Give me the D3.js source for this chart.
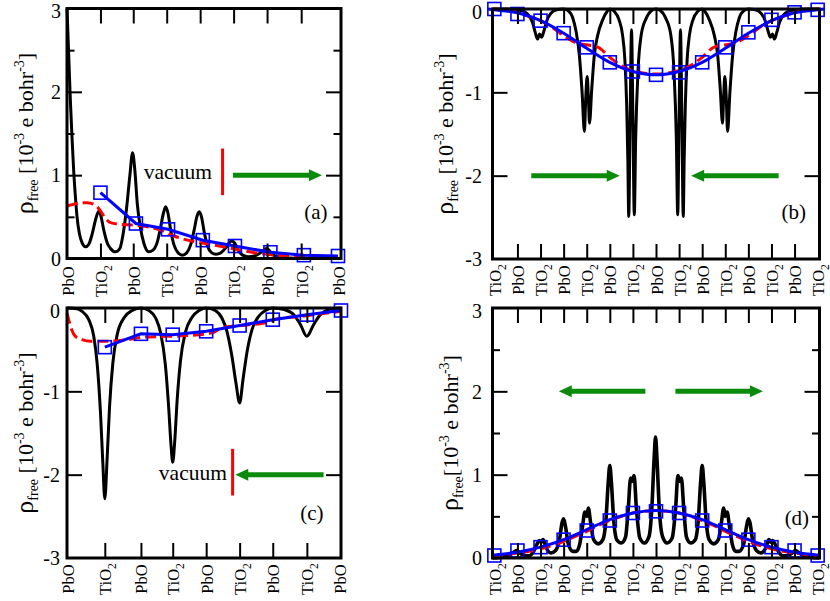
<!DOCTYPE html>
<html><head><meta charset="utf-8">
<script src="https://cdn.jsdelivr.net/npm/d3@7/dist/d3.min.js"></script>
<style>
body{margin:0;background:#fff}
svg{display:block;background:#fff}
text{font-family:"Liberation Serif","Times New Roman",Times,serif}
</style>
</head><body>
<svg id="fig" width="830" height="601"></svg>
<script>
// ---------------- DATA ----------------
const aTickPos = [0, 1.0, 1.98, 2.98, 3.98, 4.98, 5.98, 7.0, 8.13];
const aTickLabels = ["PbO","TiO2","PbO","TiO2","PbO","TiO2","PbO","TiO2","PbO"];
const cTickPos = [0, 1.13, 2.21, 3.16, 4.16, 5.16, 6.15, 7.17, 8.16];
const cTickLabels = ["PbO","TiO2","PbO","TiO2","PbO","TiO2","PbO","TiO2","PbO"];
const bdTickPos = [0,1,2,3,4,5,6,7,8,9,10,11,12,13,14];
const bdTickLabels = ["TiO2","PbO","TiO2","PbO","TiO2","PbO","TiO2","PbO","TiO2","PbO","TiO2","PbO","TiO2","PbO","TiO2"];
const posYTicks = [0,1,2,3];
const negYTicks = [0,-1,-2,-3];
const posYMinor = [0.5,1.5,2.5];

// panel (a)
const aBlack = [[0,3.0],[0.05,2.45],[0.1,1.9],[0.15,1.45],[0.2,1.05],[0.25,0.75],[0.3,0.5],[0.37,0.3],[0.45,0.19],[0.55,0.14],[0.65,0.17],[0.75,0.29],[0.85,0.46],[0.91,0.54],[0.96,0.57],[1.02,0.5],[1.1,0.34],[1.2,0.19],[1.3,0.12],[1.45,0.08],[1.58,0.12],[1.68,0.3],[1.78,0.6],[1.88,1.0],[1.96,1.27],[2.03,1.05],[2.1,0.66],[2.19,0.38],[2.3,0.18],[2.44,0.08],[2.57,0.1],[2.7,0.2],[2.8,0.38],[2.88,0.54],[2.95,0.62],[3.02,0.54],[3.1,0.34],[3.2,0.16],[3.32,0.07],[3.45,0.04],[3.58,0.07],[3.7,0.17],[3.8,0.34],[3.88,0.5],[3.95,0.56],[4.02,0.5],[4.1,0.32],[4.2,0.15],[4.32,0.07],[4.45,0.05],[4.6,0.07],[4.75,0.13],[4.85,0.19],[4.93,0.21],[5.02,0.18],[5.12,0.1],[5.25,0.04],[5.42,0.02],[5.6,0.03],[5.75,0.06],[5.88,0.1],[5.97,0.12],[6.06,0.09],[6.18,0.04],[6.35,0.015],[6.6,0.005],[7.0,0],[7.6,0],[8.19,0]];
const aRed = [[0,0.63],[0.3,0.66],[0.6,0.67],[0.85,0.64],[1.0,0.57],[1.15,0.48],[1.3,0.43],[1.6,0.41],[2.0,0.4],[2.4,0.38],[2.8,0.34],[3.2,0.27],[3.6,0.22],[4.0,0.19],[4.4,0.16],[4.8,0.13],[5.2,0.1],[5.6,0.07],[6.0,0.05],[6.5,0.03],[7.0,0.02],[7.5,0.01],[8.19,0.01]];
const aSqX = [1.0, 2.06, 3.02, 4.06, 5.02, 6.08, 7.08, 8.1];
const aSqY = [0.79, 0.42, 0.35, 0.22, 0.15, 0.075, 0.04, 0.03];

// panel (b)
const bBlack = [[-0.08,0],[0.5,0],[1.0,-0.01],[1.3,-0.03],[1.5,-0.08],[1.65,-0.16],[1.77,-0.28],[1.87,-0.36],[1.96,-0.3],[2.05,-0.34],[2.14,-0.27],[2.26,-0.15],[2.45,-0.05],[2.7,-0.01],[3.0,0],[3.2,-0.02],[3.4,-0.11],[3.54,-0.27],[3.68,-0.55],[3.8,-1.0],[3.9,-1.47],[3.96,-1.05],[4.02,-0.81],[4.07,-1.05],[4.12,-1.37],[4.22,-0.95],[4.33,-0.55],[4.48,-0.31],[4.69,-0.13],[4.88,-0.03],[5.0,0],[5.2,-0.03],[5.4,-0.13],[5.55,-0.31],[5.65,-0.6],[5.73,-1.15],[5.78,-1.8],[5.82,-2.49],[5.88,-1.3],[5.94,-0.25],[6.0,-1.3],[6.06,-2.47],[6.12,-1.55],[6.22,-0.75],[6.36,-0.31],[6.58,-0.11],[6.8,-0.02],[7.0,0],[7.2,-0.02],[7.42,-0.11],[7.64,-0.31],[7.78,-0.75],[7.88,-1.55],[7.94,-2.47],[8.0,-1.3],[8.06,-0.25],[8.12,-1.3],[8.18,-2.49],[8.22,-1.8],[8.27,-1.15],[8.35,-0.6],[8.45,-0.31],[8.6,-0.13],[8.8,-0.03],[9.0,0],[9.12,-0.03],[9.31,-0.13],[9.52,-0.31],[9.67,-0.55],[9.78,-0.95],[9.88,-1.37],[9.93,-1.05],[9.98,-0.81],[10.04,-1.05],[10.1,-1.47],[10.2,-1.0],[10.32,-0.55],[10.46,-0.27],[10.6,-0.11],[10.8,-0.02],[11.0,0],[11.3,-0.01],[11.55,-0.05],[11.74,-0.15],[11.86,-0.27],[11.95,-0.34],[12.04,-0.3],[12.13,-0.36],[12.23,-0.28],[12.35,-0.16],[12.5,-0.08],[12.7,-0.03],[13.0,-0.01],[13.5,0],[14.08,0]];
const bRed = [[-0.08,0],[0.5,-0.01],[1,-0.04],[1.5,-0.09],[2,-0.14],[2.5,-0.22],[3,-0.32],[3.5,-0.4],[4,-0.43],[4.5,-0.46],[5,-0.58],[5.5,-0.68],[6,-0.74],[6.5,-0.77],[7,-0.78],[7.5,-0.77],[8,-0.74],[8.5,-0.68],[9,-0.58],[9.5,-0.46],[10,-0.43],[10.5,-0.4],[11,-0.32],[11.5,-0.22],[12,-0.14],[12.5,-0.09],[13,-0.04],[13.5,-0.01],[14.08,0]];
const bSqX = [0,1,2,3,4,5,6,7,8,9,10,11,12,13,14];
const bSqY = [0,-0.06,-0.14,-0.29,-0.46,-0.64,-0.75,-0.79,-0.76,-0.64,-0.46,-0.28,-0.13,-0.04,-0.01];
const bFit = [[-0.3,0],[0,-0.01],[1,-0.045],[2,-0.14],[3,-0.29],[4,-0.47],[5,-0.64],[6,-0.75],[7,-0.79],[8,-0.75],[9,-0.64],[10,-0.47],[11,-0.29],[12,-0.14],[13,-0.045],[14,-0.01],[14.3,0]];

// panel (c)
const cBlack = [[0,0],[0.3,-0.01],[0.45,-0.04],[0.65,-0.14],[0.8,-0.34],[0.9,-0.66],[1.0,-1.25],[1.07,-1.85],[1.13,-2.29],[1.2,-1.8],[1.27,-1.2],[1.37,-0.66],[1.5,-0.32],[1.7,-0.12],[1.95,-0.03],[2.21,0],[2.45,-0.03],[2.65,-0.12],[2.8,-0.3],[2.94,-0.68],[3.04,-1.2],[3.11,-1.65],[3.16,-1.85],[3.22,-1.6],[3.29,-1.12],[3.39,-0.64],[3.54,-0.29],[3.74,-0.11],[3.95,-0.03],[4.16,0],[4.43,-0.03],[4.63,-0.12],[4.78,-0.28],[4.93,-0.58],[5.05,-0.9],[5.16,-1.14],[5.26,-0.86],[5.38,-0.53],[5.53,-0.26],[5.73,-0.1],[5.93,-0.03],[6.15,0],[6.5,-0.02],[6.78,-0.08],[6.98,-0.2],[7.17,-0.34],[7.37,-0.2],[7.57,-0.08],[7.82,-0.02],[8.19,0]];
const cRed = [[0,-0.06],[0.05,-0.14],[0.14,-0.26],[0.25,-0.34],[0.45,-0.38],[0.7,-0.4],[1.2,-0.4],[1.8,-0.38],[2.3,-0.35],[3.0,-0.34],[3.6,-0.33],[4.17,-0.31],[4.4,-0.29],[4.6,-0.24],[5.2,-0.21],[5.9,-0.18],[6.3,-0.13],[7.0,-0.1],[7.6,-0.07],[8.19,-0.04]];
const cSqX = [1.13, 2.21, 3.16, 4.16, 5.16, 6.15, 7.17, 8.19];
const cSqY = [-0.47, -0.31, -0.32, -0.28, -0.21, -0.14, -0.08, -0.03];

// panel (d)
const dBlack = [[-0.08,0],[0.3,0.01],[0.6,0.03],[0.85,0.07],[0.97,0.09],[1.1,0.06],[1.3,0.03],[1.5,0.025],[1.7,0.08],[1.85,0.17],[1.95,0.21],[2.03,0.19],[2.11,0.22],[2.25,0.12],[2.45,0.06],[2.65,0.09],[2.82,0.22],[2.93,0.42],[3.0,0.47],[3.08,0.38],[3.2,0.17],[3.4,0.08],[3.55,0.08],[3.7,0.17],[3.82,0.38],[3.92,0.55],[4.0,0.5],[4.07,0.6],[4.17,0.42],[4.3,0.22],[4.5,0.17],[4.7,0.22],[4.83,0.45],[4.93,0.9],[5.0,1.11],[5.07,0.9],[5.17,0.45],[5.3,0.22],[5.5,0.18],[5.68,0.25],[5.8,0.6],[5.9,0.96],[5.97,0.92],[6.05,0.99],[6.15,0.6],[6.3,0.24],[6.5,0.18],[6.7,0.26],[6.82,0.6],[6.92,1.2],[6.98,1.45],[7.04,1.2],[7.14,0.6],[7.28,0.26],[7.48,0.18],[7.7,0.24],[7.85,0.6],[7.95,0.99],[8.03,0.92],[8.1,0.96],[8.2,0.6],[8.32,0.25],[8.5,0.18],[8.7,0.22],[8.83,0.45],[8.93,0.9],[9.0,1.11],[9.07,0.9],[9.17,0.45],[9.3,0.22],[9.5,0.17],[9.7,0.22],[9.83,0.42],[9.93,0.6],[10.0,0.5],[10.08,0.55],[10.18,0.38],[10.3,0.17],[10.45,0.08],[10.6,0.08],[10.8,0.17],[10.92,0.38],[11.0,0.47],[11.07,0.42],[11.18,0.22],[11.35,0.09],[11.55,0.06],[11.75,0.12],[11.89,0.22],[11.97,0.19],[12.05,0.21],[12.15,0.17],[12.3,0.08],[12.5,0.025],[12.7,0.03],[12.9,0.06],[13.03,0.09],[13.15,0.07],[13.4,0.03],[13.7,0.01],[14.08,0]];
const dRed = [[-0.08,0.02],[0.5,0.04],[1,0.06],[1.5,0.08],[2,0.11],[2.5,0.15],[3,0.2],[3.5,0.26],[4,0.32],[4.5,0.39],[5,0.45],[5.5,0.5],[6,0.54],[6.5,0.56],[7,0.57],[7.5,0.56],[8,0.54],[8.5,0.5],[9,0.45],[9.5,0.39],[10,0.32],[10.5,0.26],[11,0.2],[11.5,0.15],[12,0.11],[12.5,0.08],[13,0.06],[13.5,0.04],[14.08,0.02]];
const dSqX = [0,1,2,3,4,5,6,7,8,9,10,11,12,13,14];
const dSqY = [0.03,0.09,0.13,0.22,0.33,0.45,0.54,0.56,0.54,0.45,0.33,0.22,0.13,0.09,0.03];
const dFit = [[-0.08,0.03],[0,0.035],[1,0.07],[2,0.13],[3,0.22],[4,0.34],[5,0.46],[6,0.54],[7,0.57],[8,0.54],[9,0.46],[10,0.34],[11,0.22],[12,0.13],[13,0.07],[14,0.035],[14.08,0.03]];

// annotations (data coordinates)
const aArrows = [[4.96,7.62,1.0]];
const bArrows = [[1.6,5.43,-2.0],[12.31,8.52,-2.0]];
const cArrows = [[7.67,5.03,-2.0]];
const dArrows = [[6.54,2.79,2.0],[7.84,11.63,2.0]];

// ---------------- DRAW ----------------
const FONT = '"Liberation Serif","Times New Roman",Times,serif';
const svg = d3.select("#fig");
const GREEN = "#0b8a0b";

const panels = [
  {L:67, R:341, T:8.5, B:258.5, xDom:[0,8.19], yDom:[0,3], yTicks:posYTicks, yMinor:posYMinor,
   xTicks:aTickPos, xLabels:aTickLabels, black:aBlack, red:aRed, sqX:aSqX, sqY:aSqY, fit:null,
   arrows:aArrows, vline:[4.65,0.76,1.32], vac:[4.33,0.95], tag:"(a)", tagPos:[7.09,0.48],
   ytX:33, yPad:6, labY:281, compact:false, bw:3},
  {L:492.5, R:819.5, T:9, B:259, xDom:[-0.08,14.08], yDom:[-3,0], yTicks:negYTicks, yMinor:[],
   xTicks:bdTickPos, xLabels:bdTickLabels, black:bBlack, red:bRed, sqX:bSqX, sqY:bSqY, fit:bFit,
   arrows:bArrows, vline:null, vac:null, tag:"(b)", tagPos:[12.43,-2.52],
   ytX:453, yPad:10.5, labY:280, compact:false, bw:3},
  {L:67, R:341, T:308, B:558, xDom:[0,8.19], yDom:[-3,0], yTicks:negYTicks, yMinor:[],
   xTicks:cTickPos, xLabels:cTickLabels, black:cBlack, red:cRed, sqX:cSqX, sqY:cSqY, fit:null,
   arrows:cArrows, vline:[4.95,-2.25,-1.69], vac:[4.78,-2.06], tag:"(c)", tagPos:[6.97,-2.54],
   ytX:33, yPad:7, labY:579, compact:false, bw:3},
  {L:492.5, R:819.5, T:308, B:558, xDom:[-0.08,14.08], yDom:[0,3], yTicks:posYTicks, yMinor:posYMinor,
   xTicks:bdTickPos, xLabels:bdTickLabels, black:dBlack, red:dRed, sqX:dSqX, sqY:dSqY, fit:dFit,
   arrows:dArrows, vline:null, vac:null, tag:"(d)", tagPos:[12.57,0.4],
   ytX:458, yPad:10.5, labY:579, compact:true, bw:3.6}
];

function writeLabel(sel, lab, base, sub) {
  const m = lab.match(/^(.*?)(\d)$/);
  if (m) {
    sel.append("tspan").text(m[1]);
    sel.append("tspan").text(m[2]).attr("font-size", sub).attr("dy", base*0.3);
  } else sel.text(lab);
}

panels.forEach(p => {
  const g = svg.append("g");
  const x = d3.scaleLinear().domain(p.xDom).range([p.L, p.R]);
  const y = d3.scaleLinear().domain(p.yDom).range([p.B, p.T]);
  const line = d3.line().x(d => x(d[0])).y(d => y(d[1]));

  g.append("path").datum(p.black)
    .attr("d", line.curve(d3.curveMonotoneX))
    .attr("fill","none").attr("stroke","#000").attr("stroke-width",p.bw).attr("stroke-linejoin","round");
  g.append("path").datum(p.red)
    .attr("d", line.curve(d3.curveMonotoneX))
    .attr("fill","none").attr("stroke","#ff0000").attr("stroke-width",3).attr("stroke-dasharray","11,5");
  const sq = p.sqX.map((v,i) => [v, p.sqY[i]]);
  if (p.fit) {
    g.append("path").datum(p.fit).attr("d", line.curve(d3.curveCatmullRom))
      .attr("fill","none").attr("stroke","#0000ff").attr("stroke-width",3);
  } else {
    g.append("path").datum(sq).attr("d", line.curve(d3.curveLinear))
      .attr("fill","none").attr("stroke","#0000ff").attr("stroke-width",3);
  }
  g.selectAll("rect.sq").data(sq).enter().append("rect").attr("class","sq")
    .attr("x", d => x(d[0]) - 6.5).attr("y", d => y(d[1]) - 6.5)
    .attr("width",13).attr("height",13)
    .attr("fill","none").attr("stroke","#0000ff").attr("stroke-width",1.6);

  p.arrows.forEach(a => {
    const x1 = x(a[0]), x2 = x(a[1]), yy = y(a[2]);
    const dir = Math.sign(x2 - x1), hl = 13, hw = 6;
    g.append("line").attr("x1",x1).attr("x2",x2 - dir*hl*0.8).attr("y1",yy).attr("y2",yy)
      .attr("stroke",GREEN).attr("stroke-width",5);
    g.append("path").attr("d",`M${x2},${yy}L${x2-dir*hl},${yy-hw}L${x2-dir*hl},${yy+hw}Z`)
      .attr("fill",GREEN);
  });
  if (p.vline) {
    g.append("line").attr("x1",x(p.vline[0])).attr("x2",x(p.vline[0]))
      .attr("y1",y(p.vline[1])).attr("y2",y(p.vline[2]))
      .attr("stroke","#ff0000").attr("stroke-width",3);
  }
  if (p.vac) {
    g.append("text").attr("x",x(p.vac[0])).attr("y",y(p.vac[1]))
      .attr("text-anchor","end").attr("font-size",21.5).attr("fill","#000").text("vacuum");
  }
  g.append("text").attr("x",x(p.tagPos[0])).attr("y",y(p.tagPos[1]))
    .attr("font-size",21).attr("fill","#000").text(p.tag);

  g.append("rect").attr("x",p.L).attr("y",p.T).attr("width",p.R-p.L).attr("height",p.B-p.T)
    .attr("fill","none").attr("stroke","#000").attr("stroke-width",3);

  const inner = p.xTicks.slice(1, -1);
  const axB = d3.axisBottom(x).tickValues(p.xTicks).tickSizeInner(-15).tickSizeOuter(0)
    .tickFormat((d,i) => p.xLabels[i]);
  const gB = g.append("g").attr("transform",`translate(0,${p.B})`).call(axB)
    .attr("font-family",FONT).attr("font-size",16.5).attr("color","#000");
  gB.select(".domain").remove();
  gB.selectAll(".tick line").attr("stroke-width",2)
    .attr("display",(d,i) => (i===0 || i===p.xTicks.length-1) ? "none" : null);
  gB.selectAll(".tick text").each(function(d,i){
    const t = d3.select(this);
    const lab = p.xLabels[i];
    t.text(null).attr("y",null).attr("dy",null).attr("x",null)
      .attr("text-anchor","middle").attr("fill","#000")
      .attr("transform",`translate(6,${p.labY - p.B}) rotate(-90)`);
    writeLabel(t, lab, 16.5, 11.5);
  });
  const axT = d3.axisTop(x).tickValues(inner).tickSizeInner(-15).tickSizeOuter(0).tickFormat("");
  const gT = g.append("g").attr("transform",`translate(0,${p.T})`).call(axT).attr("color","#000");
  gT.select(".domain").remove();
  gT.selectAll(".tick line").attr("stroke-width",2);

  const fmt = d => d === 0 ? "0" : String(d);
  const axL = d3.axisLeft(y).tickValues(p.yTicks).tickSizeInner(-15).tickSizeOuter(0)
    .tickPadding(p.yPad).tickFormat(fmt);
  const gL = g.append("g").attr("transform",`translate(${p.L},0)`).call(axL)
    .attr("font-family",FONT).attr("font-size",20).attr("color","#000");
  gL.select(".domain").remove();
  gL.selectAll(".tick line").attr("stroke-width",2)
    .attr("display",d => (d === p.yDom[0] || d === p.yDom[1]) ? "none" : null);
  gL.selectAll(".tick text").attr("dy","0.34em")
    .attr("y", d => d === p.yDom[1] ? 2.5 : 0);
  if (p.yMinor.length) {
    const gLm = g.append("g").attr("transform",`translate(${p.L},0)`)
      .call(d3.axisLeft(y).tickValues(p.yMinor).tickSizeInner(-7.5).tickSizeOuter(0).tickFormat(""))
      .attr("color","#000");
    gLm.select(".domain").remove();
    gLm.selectAll(".tick line").attr("stroke-width",2);
    const gRm = g.append("g").attr("transform",`translate(${p.R},0)`)
      .call(d3.axisRight(y).tickValues(p.yMinor).tickSizeInner(-7.5).tickSizeOuter(0).tickFormat(""))
      .attr("color","#000");
    gRm.select(".domain").remove();
    gRm.selectAll(".tick line").attr("stroke-width",2);
  }
  const gR = g.append("g").attr("transform",`translate(${p.R},0)`)
    .call(d3.axisRight(y).tickValues(p.yTicks.filter(d => d !== p.yDom[0] && d !== p.yDom[1]))
      .tickSizeInner(-15).tickSizeOuter(0).tickFormat(""))
    .attr("color","#000");
  gR.select(".domain").remove();
  gR.selectAll(".tick line").attr("stroke-width",2);

  const yt = g.append("text")
    .attr("transform",`translate(${p.ytX},${(p.T+p.B)/2}) rotate(-90)`)
    .attr("text-anchor","middle").attr("font-size",22).attr("fill","#000");
  yt.append("tspan").text("ρ").attr("font-size",26);
  yt.append("tspan").text("free").attr("font-size",14).attr("dy",5);
  yt.append("tspan").text(p.compact ? "[10" : " [10").attr("dy",-5);
  yt.append("tspan").text("-3").attr("font-size",14).attr("dy",-9);
  yt.append("tspan").text(" e bohr").attr("dy",9);
  yt.append("tspan").text("-3").attr("font-size",14).attr("dy",-9);
  yt.append("tspan").text("]").attr("dy",9);
});
</script>
</body></html>
